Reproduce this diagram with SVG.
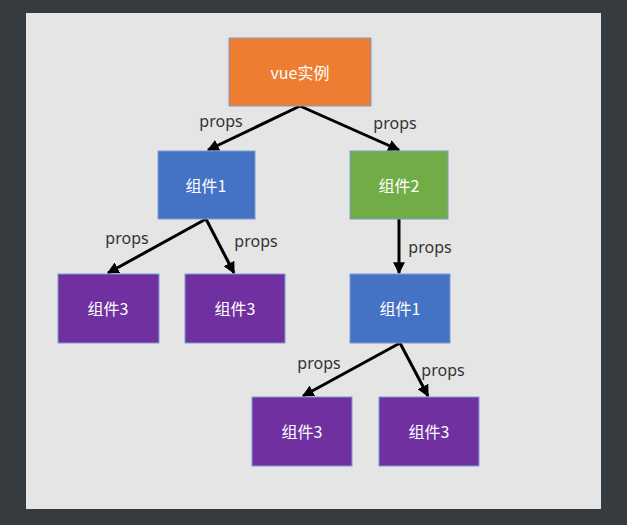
<svg xmlns="http://www.w3.org/2000/svg" width="627" height="525" viewBox="0 0 627 525">
<defs>
<marker id="ah" viewBox="0 0 10 10" refX="9" refY="5" markerWidth="4" markerHeight="4" orient="auto" markerUnits="strokeWidth">
<path d="M0,0 L10,5 L0,10 z" fill="#000"/>
</marker>
<style>
.box{stroke:#7f9bd0;stroke-width:1}
.t{font-family:"Noto Sans CJK SC","Noto Sans",sans-serif;font-size:16px;fill:#fff;text-anchor:middle;dominant-baseline:central}
.lbl{font-family:"Noto Sans","Noto Sans CJK SC",sans-serif;font-size:16px;fill:#333;text-anchor:middle;dominant-baseline:central}
.c{stroke:#000;stroke-width:3;fill:none;marker-end:url(#ah)}
</style>
</defs>
<rect x="0" y="0" width="627" height="525" fill="#363b40"/>
<rect x="26" y="13" width="575" height="496" fill="#e5e5e5"/>
<g id="connectors">
<line class="c" x1="300" y1="106" x2="208" y2="150"/>
<line class="c" x1="300" y1="106" x2="399" y2="150"/>
<line class="c" x1="206" y1="219" x2="108" y2="273"/>
<line class="c" x1="206" y1="219" x2="234" y2="273"/>
<line class="c" x1="399" y1="219" x2="399" y2="273"/>
<line class="c" x1="400" y1="343" x2="303" y2="396"/>
<line class="c" x1="400" y1="343" x2="428" y2="396"/>
<text class="lbl" x="221" y="121">props</text>
<text class="lbl" x="395" y="123">props</text>
<text class="lbl" x="127" y="238">props</text>
<text class="lbl" x="256" y="241">props</text>
<text class="lbl" x="430" y="247">props</text>
<text class="lbl" x="319" y="363">props</text>
<text class="lbl" x="443" y="370">props</text>
</g>
<g id="vue"><rect class="box" x="229" y="38" width="142" height="68" fill="#ed7d31"/><text class="t" x="300" y="72">vue实例</text></g>
<g id="c1"><rect class="box" x="158" y="151" width="97" height="68" fill="#4472c4"/><text class="t" x="206" y="185">组件1</text></g>
<g id="c2"><rect class="box" x="350" y="151" width="98" height="68" fill="#70ad47"/><text class="t" x="399" y="185">组件2</text></g>
<g id="c3a"><rect class="box" x="58" y="274" width="101" height="69" fill="#7030a0"/><text class="t" x="108" y="308">组件3</text></g>
<g id="c3b"><rect class="box" x="185" y="274" width="100" height="69" fill="#7030a0"/><text class="t" x="235" y="308">组件3</text></g>
<g id="c1b"><rect class="box" x="350" y="274" width="100" height="69" fill="#4472c4"/><text class="t" x="400" y="308">组件1</text></g>
<g id="c3c"><rect class="box" x="252" y="397" width="100" height="69" fill="#7030a0"/><text class="t" x="302" y="431">组件3</text></g>
<g id="c3d"><rect class="box" x="379" y="397" width="100" height="69" fill="#7030a0"/><text class="t" x="429" y="431">组件3</text></g>
</svg>
